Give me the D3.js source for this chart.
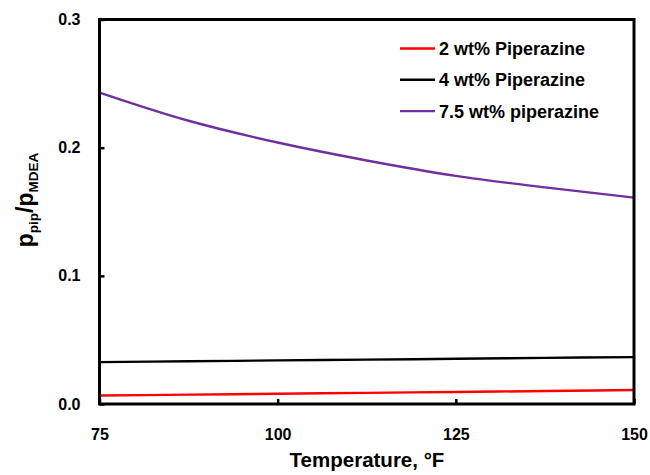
<!DOCTYPE html>
<html>
<head>
<meta charset="utf-8">
<script src="https://cdn.jsdelivr.net/npm/d3@7"></script>
<style>
  body { margin: 0; background: #fff; }
  text { font-family: "Liberation Sans", Arial, sans-serif; }
</style>
</head>
<body>
<svg id="chart" width="650" height="475"></svg>
<script>
// temperature grid, °F
const temps = [75, 87.5, 100, 112.5, 125, 137.5, 150];
// ratio p_pip / p_MDEA for each blend
const pip2 = [0.0066, 0.0073, 0.0080, 0.0087, 0.0094, 0.0101, 0.0109];
const pip4 = [0.0327, 0.0333, 0.0340, 0.0346, 0.0353, 0.0360, 0.0366];
const pip75 = [0.243, 0.221, 0.204, 0.190, 0.178, 0.169, 0.161];

const seriesNames = ['2 wt% Piperazine', '4 wt% Piperazine', '7.5 wt% piperazine'];
const seriesColors = ['#ff0000', '#000000', '#7030a0'];
const xTicks = [75, 100, 125, 150];
const yTicks = [0, 0.1, 0.2, 0.3];

const series = [pip2, pip4, pip75].map((vals, i) => ({
  name: seriesNames[i], color: seriesColors[i],
  pts: temps.map((t, j) => [t, vals[j]])
}));

const svg = d3.select('#chart');
const m = {left: 99.5, right: 634, top: 19.5, bottom: 404};

const x = d3.scaleLinear().domain([75, 150]).range([m.left, m.right]);
const y = d3.scaleLinear().domain([0, 0.3]).range([m.bottom, m.top]);

// series lines
const line = d3.line().x(d => x(d[0])).y(d => y(d[1])).curve(d3.curveMonotoneX);
svg.append('g').selectAll('path').data(series).join('path')
  .attr('d', d => line(d.pts))
  .attr('fill', 'none')
  .attr('stroke', d => d.color)
  .attr('stroke-width', 2.4);

// axes, ticks pointing inward
const xAxis = svg.append('g').attr('transform', `translate(0,${m.bottom})`)
  .call(d3.axisBottom(x).tickValues(xTicks).tickSizeInner(-5).tickSizeOuter(0).tickPadding(25).tickFormat(d3.format('d')));
const yAxis = svg.append('g').attr('transform', `translate(${m.left},0)`)
  .call(d3.axisLeft(y).tickValues(yTicks).tickSizeInner(-5).tickSizeOuter(0).tickPadding(19).tickFormat(d3.format('.1f')));

[xAxis, yAxis].forEach(a => {
  a.select('.domain').remove();
  a.selectAll('line').attr('stroke', '#000').attr('stroke-width', 2.5);
  a.selectAll('text').attr('fill', '#000').style('font-size', '16px').style('font-weight', 'bold');
});

// frame
svg.append('rect')
  .attr('x', m.left).attr('y', m.top)
  .attr('width', m.right - m.left).attr('height', m.bottom - m.top)
  .attr('fill', 'none').attr('stroke', '#000').attr('stroke-width', 3);

// axis titles
svg.append('text')
  .attr('x', 367).attr('y', 467)
  .attr('text-anchor', 'middle')
  .style('font-size', '20.5px').style('font-weight', 'bold')
  .text('Temperature, °F');

const yt = svg.append('text')
  .attr('transform', 'translate(33,200) rotate(-90)')
  .attr('text-anchor', 'middle')
  .style('font-size', '23px').style('font-weight', 'bold');
yt.append('tspan').text('p');
yt.append('tspan').attr('dy', 5).style('font-size', '13.5px').text('pip');
yt.append('tspan').attr('dy', -5).text('/p');
yt.append('tspan').attr('dy', 5).style('font-size', '13.5px').text('MDEA');

// legend
const lg = svg.append('g').attr('transform', 'translate(400,48.5)');
const row = lg.selectAll('g').data(series).join('g')
  .attr('transform', (d, i) => `translate(0,${i * 31.3})`);
row.append('line').attr('x1', 0).attr('x2', 35).attr('y1', 0).attr('y2', 0)
  .attr('stroke', d => d.color).attr('stroke-width', 2.4);
row.append('text').attr('x', 39).attr('y', 6.5)
  .style('font-size', '18px').style('font-weight', 'bold')
  .text(d => d.name);
</script>
</body>
</html>
